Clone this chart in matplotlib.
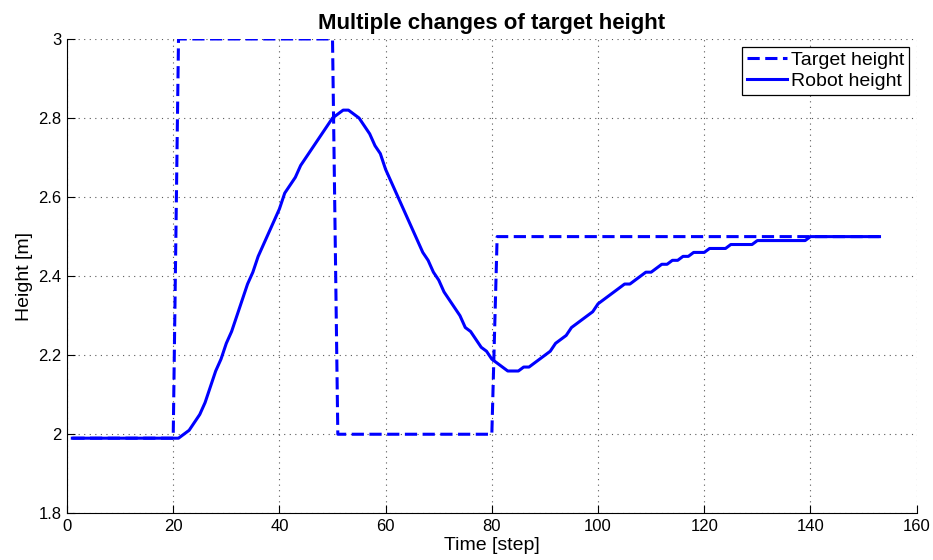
import matplotlib
matplotlib.use('Agg')
import matplotlib.pyplot as plt

plt.rcParams['font.family'] = ['Liberation Sans', 'DejaVu Sans']

# Time steps 1..153
steps = list(range(1, 154))

# Target height per step
target = [1.99] * 20 + [3.0] * 30 + [2.0] * 30 + [2.5] * 73

# Robot height per step
robot = ([1.99] * 21 +
         [2.00, 2.01, 2.03, 2.05, 2.08, 2.12, 2.16, 2.19, 2.23,       # 22-30
          2.26, 2.30, 2.34, 2.38, 2.41, 2.45, 2.48, 2.51, 2.54, 2.57,  # 31-40
          2.61, 2.63, 2.65, 2.68, 2.70, 2.72, 2.74, 2.76, 2.78, 2.80,  # 41-50
          2.81, 2.82, 2.82, 2.81, 2.80, 2.78, 2.76, 2.73, 2.71, 2.67,  # 51-60
          2.64, 2.61, 2.58, 2.55, 2.52, 2.49, 2.46, 2.44, 2.41, 2.39,  # 61-70
          2.36, 2.34, 2.32, 2.30, 2.27, 2.26, 2.24, 2.22, 2.21, 2.19,  # 71-80
          2.18, 2.17, 2.16, 2.16, 2.16, 2.17, 2.17, 2.18, 2.19, 2.20,  # 81-90
          2.21, 2.23, 2.24, 2.25, 2.27, 2.28, 2.29, 2.30, 2.31, 2.33,  # 91-100
          2.34, 2.35, 2.36, 2.37, 2.38, 2.38, 2.39, 2.40, 2.41, 2.41,  # 101-110
          2.42, 2.43, 2.43, 2.44, 2.44, 2.45, 2.45, 2.46, 2.46, 2.46,  # 111-120
          2.47, 2.47, 2.47, 2.47, 2.48, 2.48, 2.48, 2.48, 2.48] +      # 121-129
         [2.49] * 10 + [2.50] * 14)

xticks = [0, 20, 40, 60, 80, 100, 120, 140, 160]
yticks = [1.8, 2.0, 2.2, 2.4, 2.6, 2.8, 3.0]
ytick_labels = ['1.8', '2', '2.2', '2.4', '2.6', '2.8', '3']

fig = plt.figure(figsize=(9.33, 5.6), dpi=100)
ax = fig.add_axes([0.0718, 0.0834, 0.9107, 0.847])

ax.plot(steps, target, color='#0000ff', lw=2.2, linestyle=(0, (4, 1.8)),
        label='Target height')
ax.plot(steps, robot, color='#0000ff', lw=2.2, label='Robot height')

ax.set_xlim(0, 160)
ax.set_ylim(1.8, 3.0)
ax.set_xticks(xticks)
ax.set_yticks(yticks)
ax.set_yticklabels(ytick_labels)
ax.tick_params(direction='in', length=6, labelsize=12, pad=4)

ax.spines['top'].set_visible(False)
ax.spines['right'].set_visible(False)
ax.grid(True, linestyle=(0, (1, 4)), color='0.35', lw=0.8)

ax.set_title('Multiple changes of target height', fontsize=16, fontweight='bold', pad=7)
ax.set_xlabel('Time [step]', fontsize=14, labelpad=2)
ax.set_ylabel('Height [m]', fontsize=14, labelpad=4)

leg = ax.legend(loc='upper right', fontsize=14, fancybox=False, framealpha=1,
                edgecolor='black', handlelength=2.05, handletextpad=0.2,
                borderpad=0.25, labelspacing=0.15, borderaxespad=0.4)
leg.get_frame().set_linewidth(0.9)

fig.savefig('out.png', dpi=100)
